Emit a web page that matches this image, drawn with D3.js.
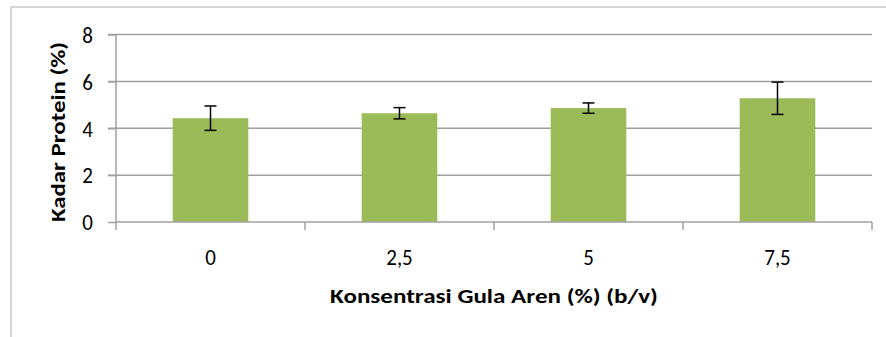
<!DOCTYPE html>
<html>
<head>
<meta charset="utf-8">
<script src="https://cdn.jsdelivr.net/npm/d3@7"></script>
<style>
  html, body { margin: 0; padding: 0; background: #fff; }
  svg { display: block; }
</style>
</head>
<body>
<div id="chart"></div>
<script>
// Protein content by palm sugar concentration, with error bars
const categories = ["0", "2,5", "5", "7,5"];
const values = [4.43, 4.64, 4.86, 5.28];
const errors = [0.52, 0.24, 0.22, 0.69];
const yTicks = [0, 2, 4, 6, 8];
const xTitle = "Konsentrasi Gula Aren (%) (b/v)";
const yTitle = "Kadar Protein (%)";

const W = 886, H = 337;
const margin = { left: 116, right: 14, top: 34.5, bottom: 115 };
const plotW = W - margin.left - margin.right;
const plotH = H - margin.top - margin.bottom;

const svg = d3.select("#chart").append("svg")
  .attr("width", W).attr("height", H);

// chart frame
svg.append("path")
  .attr("d", `M11,${H} V7 H${W}`)
  .attr("fill", "none")
  .attr("stroke", "#c8c8c8")
  .attr("stroke-width", 1.5);

const g = svg.append("g").attr("transform", `translate(${margin.left},${margin.top})`);

const x = d3.scaleBand().domain(categories).range([0, plotW]).paddingInner(0).paddingOuter(0);
const y = d3.scaleLinear().domain([0, 8]).range([plotH, 0]);

const gridColor = "#a0a0a0";
const font = "Carlito, Calibri, Lato, 'Open Sans', sans-serif";
const stretch = 1.1; // tall glyph proportions

// horizontal gridlines
g.append("g").selectAll("line").data(yTicks.filter(d => d > 0)).join("line")
  .attr("x1", -8).attr("x2", plotW)
  .attr("y1", d => y(d)).attr("y2", d => y(d))
  .attr("stroke", gridColor).attr("stroke-width", 1.5);

// bars
const barW = x.bandwidth() * 0.4;
g.append("g").selectAll("rect").data(categories).join("rect")
  .attr("x", d => x(d) + (x.bandwidth() - barW) / 2)
  .attr("y", (d, i) => y(values[i]))
  .attr("width", barW)
  .attr("height", (d, i) => y(0) - y(values[i]))
  .attr("fill", "#9bbb59");

// y axis
const yAxis = g.append("g")
  .call(d3.axisLeft(y).tickValues(yTicks).tickSize(8).tickPadding(15).tickFormat(d3.format("d")));
yAxis.select(".domain").attr("stroke", gridColor).attr("stroke-width", 1.5).attr("d", `M0,${plotH}V0`);
yAxis.selectAll(".tick line").attr("stroke", gridColor).attr("stroke-width", 1.5);
yAxis.selectAll("text")
  .attr("font-family", font).attr("font-size", 21).attr("fill", "#000")
  .attr("dy", "0.34em")
  .attr("transform", `scale(1,${stretch})`);

// x axis with boundary ticks
const xAxisG = g.append("g").attr("transform", `translate(0,${plotH})`);
xAxisG.append("line").attr("x1", 0).attr("x2", plotW)
  .attr("stroke", gridColor).attr("stroke-width", 1.5);
const bounds = categories.map(c => x(c)).concat([plotW]);
xAxisG.selectAll("line.tk").data(bounds).join("line").attr("class", "tk")
  .attr("x1", d => d).attr("x2", d => d).attr("y1", 0).attr("y2", 8)
  .attr("stroke", gridColor).attr("stroke-width", 1.5);
xAxisG.selectAll("text").data(categories).join("text")
  .attr("transform", d => `translate(${x(d) + x.bandwidth() / 2},35) scale(1,${stretch})`)
  .attr("dy", "0.34em")
  .attr("text-anchor", "middle")
  .attr("font-family", font).attr("font-size", 21).attr("fill", "#000")
  .text(d => d);

// error bars
const eb = g.append("g").attr("stroke", "#000").attr("stroke-width", 1.5);
categories.forEach((c, i) => {
  const cx = x(c) + x.bandwidth() / 2;
  const top = y(values[i] + errors[i]);
  const bot = y(values[i] - errors[i]);
  eb.append("line").attr("x1", cx).attr("x2", cx).attr("y1", top).attr("y2", bot);
  eb.append("line").attr("x1", cx - 6).attr("x2", cx + 6).attr("y1", top).attr("y2", top);
  eb.append("line").attr("x1", cx - 6).attr("x2", cx + 6).attr("y1", bot).attr("y2", bot);
});

// axis titles, fitted to their run length
function fitTitle(sel, len, placement) {
  const natural = sel.node().getComputedTextLength();
  sel.attr("transform", `${placement} scale(${len / natural},1)`);
}

const xt = svg.append("text")
  .attr("dy", "0.34em")
  .attr("text-anchor", "middle")
  .attr("font-family", font).attr("font-weight", "bold").attr("font-size", 20)
  .text(xTitle);
fitTitle(xt, 328, `translate(${margin.left + plotW / 2},296.5)`);

const yt = svg.append("text")
  .attr("dy", "0.34em")
  .attr("text-anchor", "middle")
  .attr("font-family", font).attr("font-weight", "bold").attr("font-size", 20)
  .text(yTitle);
fitTitle(yt, 180, `translate(58,132) rotate(-90)`);
</script>
</body>
</html>
